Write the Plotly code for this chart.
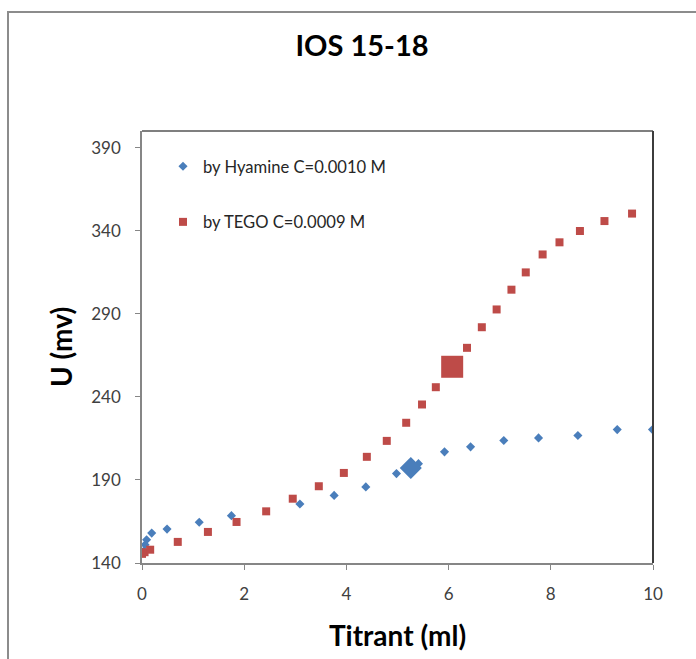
import plotly.graph_objects as go

# ---- data ----
hyamine_x = [0.03, 0.06, 0.09, 0.19, 0.49, 1.12, 1.75, 3.09, 3.76, 4.38, 4.98, 5.41,
             5.92, 6.43, 7.08, 7.76, 8.53, 9.30, 9.99]
hyamine_y = [147.0, 151.0, 154.0, 158.0, 160.4, 164.5, 168.5, 175.5, 180.7, 185.8, 193.8, 199.8,
             206.9, 209.9, 213.7, 215.3, 216.7, 220.3, 220.3]
hyamine_eq_x = [5.26]
hyamine_eq_y = [197.2]

tego_x = [0.0, 0.05, 0.16, 0.70, 1.29, 1.85, 2.43, 2.95, 3.46, 3.95, 4.40, 4.79, 5.17, 5.48,
          5.75, 6.36, 6.65, 6.94, 7.23, 7.51, 7.84, 8.17, 8.57, 9.05, 9.59]
tego_y = [145.5, 146.5, 148.0, 152.7, 158.7, 164.7, 171.1, 178.7, 186.2, 194.2, 203.9, 213.5,
          224.4, 235.4, 245.8, 269.5, 281.9, 292.6, 304.5, 314.9, 325.7, 333.0, 339.8, 345.8, 350.3]
tego_eq_x = [6.07]
tego_eq_y = [258.1]

x_ticks = [0, 2, 4, 6, 8, 10]
y_ticks = [140, 190, 240, 290, 340, 390]

series_names = ["by Hyamine C=0.0010 M", "by TEGO C=0.0009 M"]
chart_title = "IOS 15-18"
x_title = "Titrant (ml)"
y_title = "U (mv)"

BLUE = "#4a7ebb"
RED = "#be4b48"
FONT = "Lato"

W, H = 696, 659
ML, MR, MT, MB = 142, 43, 131, 96
PW, PH = W - ML - MR, H - MT - MB

fig = go.Figure()
fig.add_trace(go.Scatter(x=hyamine_x, y=hyamine_y, mode="markers", name=series_names[0],
                         legendgroup="a",
                         marker=dict(symbol="diamond", size=7, color=BLUE, line=dict(width=0))))
fig.add_trace(go.Scatter(x=hyamine_eq_x, y=hyamine_eq_y, mode="markers", showlegend=False,
                         marker=dict(symbol="diamond", size=17, color=BLUE, line=dict(width=0))))
fig.add_trace(go.Scatter(x=tego_x, y=tego_y, mode="markers", name=series_names[1],
                         legendgroup="b",
                         marker=dict(symbol="square", size=8, color=RED, line=dict(width=0))))
fig.add_trace(go.Scatter(x=tego_eq_x, y=tego_eq_y, mode="markers", showlegend=False,
                         marker=dict(symbol="square", size=22, color=RED, line=dict(width=0))))

def px_x(p):
    return (p - ML) / PW

def px_y(p):
    return 1 - (p - MT) / PH

fig.update_layout(
    width=W, height=H, autosize=False,
    margin=dict(l=ML, r=MR, t=MT, b=MB, pad=0),
    paper_bgcolor="white", plot_bgcolor="white",
    font=dict(family=FONT, color="#404040"),
    title=dict(text=chart_title, x=px_x(362), xref="paper", xanchor="center",
               y=1 - 46 / H, yref="container", yanchor="middle",
               font=dict(family=FONT, size=29, color="black", weight="bold")),
    showlegend=True,
    legend=dict(x=px_x(163), y=px_y(149), xanchor="left", yanchor="top",
                traceorder="grouped", tracegroupgap=31,
                bgcolor="rgba(0,0,0,0)",
                font=dict(family=FONT, size=16.6, color="#262626")),
    xaxis=dict(range=[0, 10], tickvals=x_ticks, showgrid=False, zeroline=False,
               showline=True, linecolor="#868686", linewidth=1.5,
               ticks="outside", ticklen=5, tickcolor="#868686", tickwidth=1,
               ticklabelstandoff=10,
               tickfont=dict(family=FONT, size=17, color="#404040"),
               title=dict(text=x_title, standoff=23,
                          font=dict(family=FONT, size=28, color="black", weight="bold"))),
    yaxis=dict(range=[140, 400], tickvals=y_ticks, showgrid=False, zeroline=False,
               showline=True, linecolor="#868686", linewidth=1.5,
               ticks="outside", ticklen=5, tickcolor="#868686", tickwidth=1,
               ticklabelstandoff=11,
               tickfont=dict(family=FONT, size=17, color="#404040"),
               title=dict(text=y_title, standoff=10,
                          font=dict(family=FONT, size=28, color="black", weight="bold"))),
    shapes=[
        # outer chart border
        dict(type="rect", xref="paper", yref="paper",
             x0=px_x(8), x1=px_x(740), y0=px_y(720), y1=px_y(12),
             line=dict(color="#8c8c8c", width=2), fillcolor="rgba(0,0,0,0)", layer="below"),
        # plot-area top and right borders
        dict(type="line", xref="paper", yref="paper", x0=0, x1=1, y0=1, y1=1,
             line=dict(color="black", width=1.2)),
        dict(type="line", xref="paper", yref="paper", x0=1, x1=1, y0=0, y1=1,
             line=dict(color="#3c3c3c", width=2)),
    ],
)

fig.write_html("out.html")
